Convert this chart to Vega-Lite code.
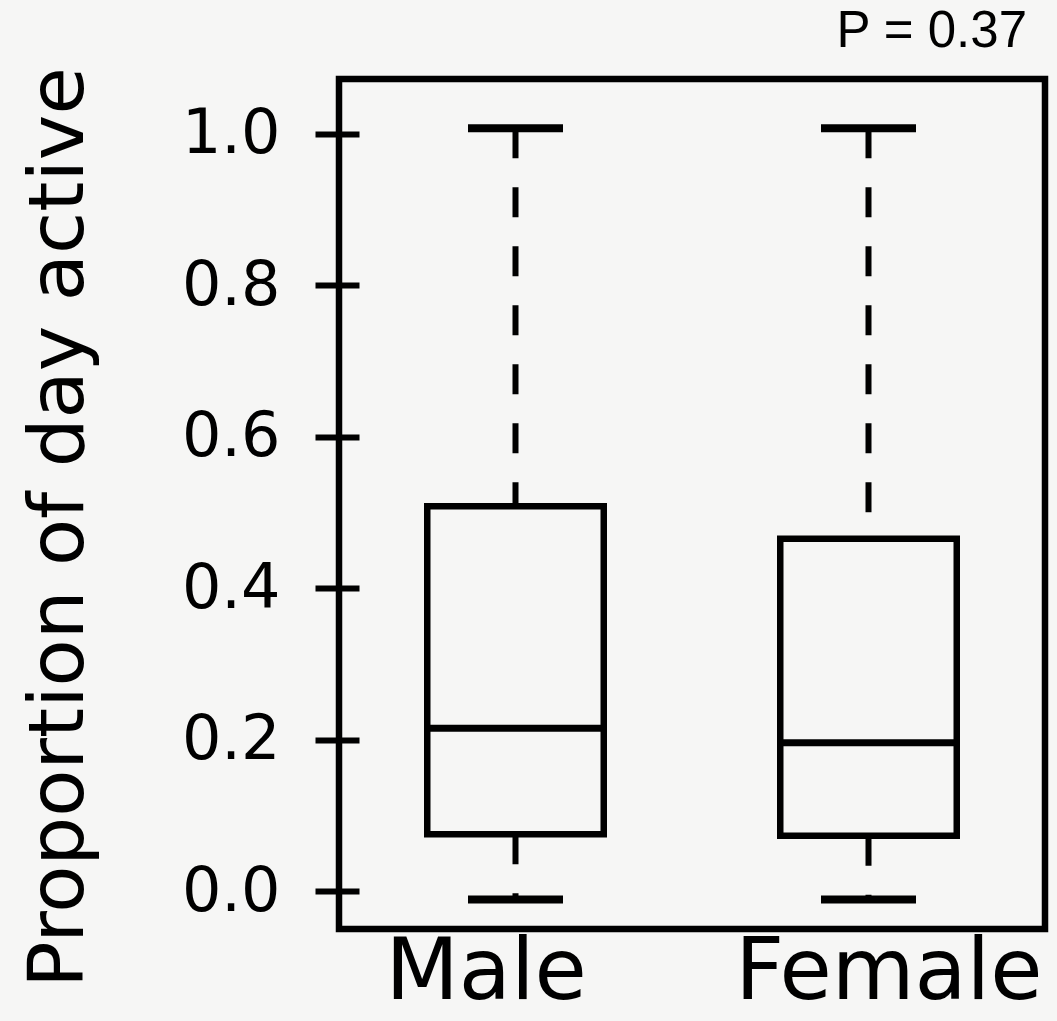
{
  "$schema": "https://vega.github.io/schema/vega-lite/v6.json",
  "autosize": "none",
  "padding": {"left": 339, "top": 79, "right": 12, "bottom": 92},
  "width": 706,
  "height": 850,
  "background": "#f6f6f5",
  "title": {
    "text": "P = 0.37",
    "anchor": "end",
    "frame": "group",
    "font": "Liberation Sans",
    "fontSize": 51,
    "fontWeight": "normal",
    "color": "black",
    "baseline": "alphabetic",
    "offset": 29,
    "dx": -18,
    "dy": 60
  },
  "data": {
    "values": [
      {"sex": "Male", "lower": -0.011, "q1": 0.075, "median": 0.215, "q3": 0.508, "upper": 1.007},
      {"sex": "Female", "lower": -0.011, "q1": 0.073, "median": 0.196, "q3": 0.465, "upper": 1.007}
    ]
  },
  "encoding": {
    "x": {
      "field": "sex",
      "type": "nominal",
      "sort": ["Male", "Female"],
      "scale": {"paddingInner": 0, "paddingOuter": 0},
      "axis": {
        "title": null,
        "domain": false,
        "ticks": false,
        "tickSize": 0,
        "labelFont": "DejaVu Sans",
        "labelFontSize": 85,
        "labelColor": "black",
        "labelAngle": 0,
        "labelLimit": 0,
        "labelBaseline": "alphabetic",
        "labelPadding": 69,
        "labelAlign": {"condition": {"test": "datum.value === 'Male'", "value": "left"}, "value": "right"},
        "labelOffset": {"condition": {"test": "datum.value === 'Male'", "value": -130}, "value": 174},
        "labelOverlap": false,
        "labelFlush": false
      }
    }
  },
  "layer": [
    {
      "mark": {"type": "rule", "color": "black", "strokeWidth": 6, "strokeDash": [30, 29]},
      "encoding": {
        "y": {
          "field": "upper",
          "type": "quantitative",
          "scale": {"domain": [-0.05, 1.072], "nice": false, "zero": false},
          "axis": {"title": "Proportion of day active", "values": [0, 0.2, 0.4, 0.6, 0.8, 1.0]}
        },
        "y2": {"field": "q3"}
      }
    },
    {
      "mark": {"type": "rule", "color": "black", "strokeWidth": 6, "strokeDash": [30, 29]},
      "encoding": {
        "y": {"field": "q1", "type": "quantitative", "axis": {"title": "Proportion of day active", "values": [0, 0.2, 0.4, 0.6, 0.8, 1.0]}},
        "y2": {"field": "lower"}
      }
    },
    {
      "mark": {"type": "tick", "color": "black", "size": 95, "thickness": 8, "opacity": 1},
      "encoding": {
        "y": {"field": "upper", "type": "quantitative", "axis": {"title": "Proportion of day active", "values": [0, 0.2, 0.4, 0.6, 0.8, 1.0]}}
      }
    },
    {
      "mark": {"type": "tick", "color": "black", "size": 95, "thickness": 8, "opacity": 1},
      "encoding": {
        "y": {"field": "lower", "type": "quantitative", "axis": {"title": "Proportion of day active", "values": [0, 0.2, 0.4, 0.6, 0.8, 1.0]}}
      }
    },
    {
      "mark": {"type": "bar", "fill": "#f6f6f5", "stroke": "black", "strokeWidth": 6.5, "width": {"band": 0.5}},
      "encoding": {
        "y": {"field": "q1", "type": "quantitative", "axis": {"title": "Proportion of day active", "values": [0, 0.2, 0.4, 0.6, 0.8, 1.0]}},
        "y2": {"field": "q3"}
      }
    },
    {
      "mark": {"type": "tick", "color": "black", "size": 176, "thickness": 7, "opacity": 1},
      "encoding": {
        "y": {"field": "median", "type": "quantitative", "axis": {"title": "Proportion of day active", "values": [0, 0.2, 0.4, 0.6, 0.8, 1.0]}}
      }
    }
  ],
  "config": {
    "view": {"stroke": "black", "strokeWidth": 6.5, "fill": "#f6f6f5"},
    "axisY": {
      "format": ".1f",
      "domain": false,
      "grid": false,
      "offset": -20,
      "tickSize": 44,
      "tickWidth": 6,
      "tickColor": "black",
      "labelFont": "DejaVu Sans",
      "labelFontSize": 62,
      "labelColor": "black",
      "labelPadding": 35,
      "labelBaseline": "middle",
      "labelFlush": false,
      "titleFont": "DejaVu Sans",
      "titleFontSize": 77,
      "titleFontWeight": "normal",
      "titleColor": "black",
      "titleAngle": -90,
      "titleX": -277,
      "titleY": 448,
      "titleAlign": "center",
      "titleBaseline": "alphabetic"
    }
  }
}
